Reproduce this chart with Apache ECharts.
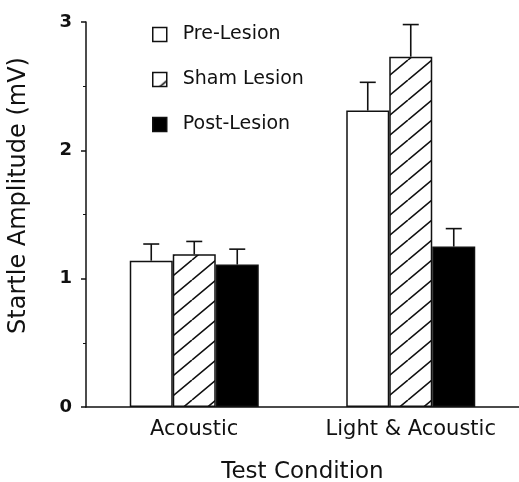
<!DOCTYPE html>
<html><head><meta charset="utf-8">
<script src="https://cdn.jsdelivr.net/npm/echarts@6/dist/echarts.min.js"></script>
<style>html,body{margin:0;padding:0;background:#fff}#c{width:519px;height:482px}</style>
</head><body><div id="c"></div>
<script>
var categories = ['Acoustic', 'Light & Acoustic'];
var seriesNames = ['Pre-Lesion', 'Sham Lesion', 'Post-Lesion'];
var preLesion = [1.14, 2.31];
var preLesionErr = [0.13, 0.22];
var shamLesion = [1.19, 2.73];
var shamLesionErr = [0.10, 0.25];
var postLesion = [1.11, 1.25];
var postLesionErr = [0.12, 0.14];
var yTicks = [0, 1, 2, 3];

var FONT = 'DejaVu Sans, Verdana, sans-serif';
var BW = 43;
function hatch() {
  var c = document.createElement('canvas');
  c.width = 24; c.height = 20;
  var g = c.getContext('2d');
  g.fillStyle = '#fff'; g.fillRect(0, 0, 24, 20);
  g.strokeStyle = '#111'; g.lineWidth = 1.6;
  g.beginPath();
  g.moveTo(-24, 20); g.lineTo(0, 0);
  g.moveTo(0, 20); g.lineTo(24, 0);
  g.moveTo(24, 20); g.lineTo(48, 0);
  g.stroke();
  return c;
}
var hatchImg = hatch();
var fills = ['#fff', {image: hatchImg, repeat: 'repeat'}, '#000'];
var vals = [preLesion, shamLesion, postLesion];
var errs = [preLesionErr, shamLesionErr, postLesionErr];

var series = [];
seriesNames.forEach(function (n, k) {
  series.push({
    name: n, type: 'bar', barWidth: BW, barGap: '0%',
    data: vals[k],
    itemStyle: {color: fills[k], borderColor: '#111', borderWidth: 1.5}
  });
});
seriesNames.forEach(function (n, k) {
  series.push({
    type: 'custom', name: n + ' err', silent: true,
    data: categories.map(function (c, i) { return [i, vals[k][i], vals[k][i] + errs[k][i]]; }),
    renderItem: function (params, api) {
      var i = api.value(0);
      var p0 = api.coord([i, api.value(1)]);
      var p1 = api.coord([i, api.value(2)]);
      var x = p0[0] + (k - 1) * BW;
      return {type: 'group', children: [
        {type: 'line', shape: {x1: x, y1: p0[1], x2: x, y2: p1[1]}, style: {stroke: '#111', lineWidth: 1.6}},
        {type: 'line', shape: {x1: x - 8, y1: p1[1], x2: x + 8, y2: p1[1]}, style: {stroke: '#111', lineWidth: 1.6}}
      ]};
    },
    z: 3
  });
});

var chart = echarts.init(document.getElementById('c'));
chart.setOption({
  animation: false,
  textStyle: {fontFamily: FONT},
  grid: {left: 86, right: 0, top: 22, bottom: 75, containLabel: false, outerBoundsMode: 'none'},
  legend: {
    data: seriesNames, orient: 'vertical', left: 147, top: 20,
    icon: 'rect', itemWidth: 14, itemHeight: 14, itemGap: 26,
    textStyle: {fontSize: 19, color: '#111', fontFamily: FONT, padding: [0, 0, 0, 11]},
    itemStyle: {borderColor: '#111', borderWidth: 1.5}
  },
  xAxis: {
    type: 'category', data: categories,
    axisLine: {lineStyle: {color: '#111', width: 1.5}},
    axisTick: {show: false},
    axisLabel: {fontSize: 21, color: '#111', margin: 12, fontFamily: FONT, interval: 0, hideOverlap: false},
    name: 'Test Condition', nameLocation: 'middle', nameGap: 54,
    nameTextStyle: {fontSize: 23, color: '#111', fontFamily: FONT}
  },
  yAxis: {
    type: 'value', min: yTicks[0], max: yTicks[yTicks.length - 1], interval: 1,
    axisLine: {show: true, lineStyle: {color: '#111', width: 1.5}},
    axisTick: {show: true, length: 5, lineStyle: {color: '#111', width: 1.5}},
    minorTick: {show: true, splitNumber: 2, length: 3, lineStyle: {color: '#111'}},
    splitLine: {show: false},
    axisLabel: {fontSize: 18, color: '#111', margin: 14, fontWeight: 'bold', fontFamily: FONT},
    name: 'Startle Amplitude (mV)', nameLocation: 'middle', nameGap: 55,
    nameTextStyle: {fontSize: 24, color: '#111', fontFamily: FONT, padding: [0, 0, 0, 38]}
  },
  series: series
});
</script></body></html>
